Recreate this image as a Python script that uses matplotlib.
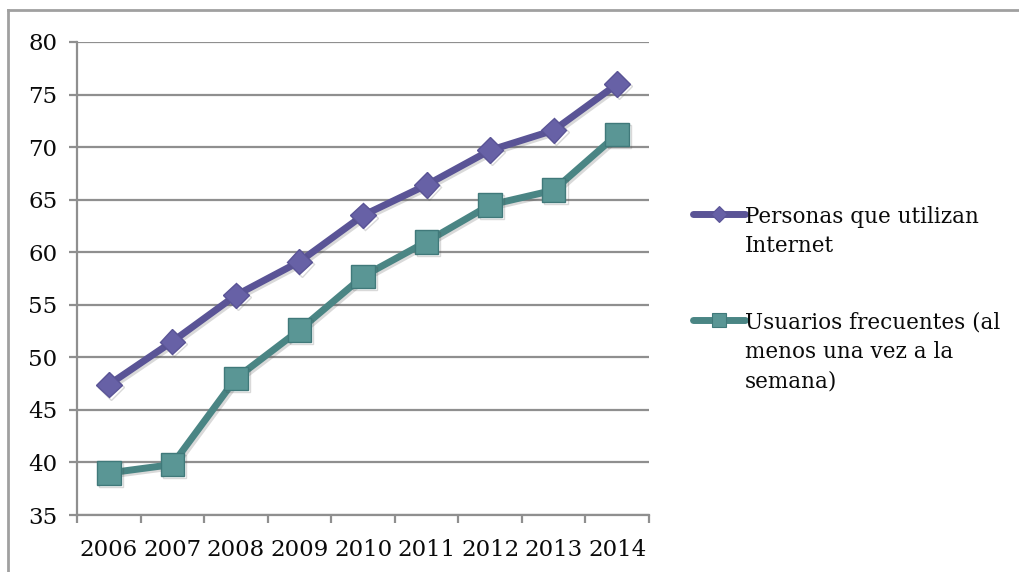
import matplotlib
matplotlib.use("Agg")
import matplotlib.pyplot as plt
import matplotlib.patheffects as pe
from matplotlib.lines import Line2D
import numpy as np

# Data
years = ["2006", "2007", "2008", "2009", "2010", "2011", "2012", "2013", "2014"]
personas_internet = [47.4, 51.5, 55.9, 59.1, 63.5, 66.4, 69.7, 71.6, 76.0]
usuarios_frecuentes = [39.0, 39.8, 48.0, 52.6, 57.7, 61.0, 64.5, 65.9, 71.2]
label_personas = "Personas que utilizan\nInternet"
label_usuarios = "Usuarios frecuentes (al\nmenos una vez a la\nsemana)"

purple = "#5a5496"
teal = "#4a8584"
grid_gray = "#8f8f8f"

plt.rcParams["font.family"] = ["DejaVu Serif"]

W, H = 1019, 572
fig = plt.figure(figsize=(W / 100, H / 100), dpi=100)
ax = fig.add_axes([77 / W, 1 - 515 / H, 572 / W, 473 / H])

x = np.arange(len(years))
shadow = [pe.SimpleLineShadow(offset=(1.5, -1.5), alpha=0.2, shadow_color="#444444"), pe.Normal()]

series = [
    (personas_internet, label_personas, purple, "D", 13, "#6761a6", "#5a5496"),
    (usuarios_frecuentes, label_usuarios, teal, "s", 17, "#5a9695", "#40797a"),
]
for vals, lab, col, mk, ms, fc, ec in series:
    ax.plot(x, vals, color=col, lw=5, marker=mk, ms=ms, mfc=fc, mec=ec, mew=1,
            solid_joinstyle="round", label=lab, zorder=3, path_effects=shadow)

ax.set_xlim(-0.5, len(years) - 0.5)
ax.set_ylim(35, 80)
ax.set_yticks(np.arange(35, 81, 5))
ax.set_xticks(x)
ax.set_xticklabels(years)
ax.set_xticks(np.arange(-0.5, len(years), 1), minor=True)

ax.grid(axis="y", color=grid_gray, lw=1.6)
ax.set_axisbelow(True)
for s in ["top", "right"]:
    ax.spines[s].set_visible(False)
for s in ["left", "bottom"]:
    ax.spines[s].set_color(grid_gray)
    ax.spines[s].set_linewidth(1.6)

ax.tick_params(axis="y", length=6, width=1.6, color=grid_gray, labelsize=16.5, pad=8,
               labelcolor="#0a0a0a")
ax.tick_params(axis="x", which="major", length=0, labelsize=16.5, pad=17, labelcolor="#0a0a0a")
ax.tick_params(axis="x", which="minor", length=6, width=1.6, color=grid_gray)

# legend on the right: handle aligned with the first text line
legend_rows = [214, 320]
for (vals, lab, col, mk, ms, fc, ec), yp in zip(series, legend_rows):
    yf = 1 - yp / H
    fig.add_artist(Line2D([693 / W, 745 / W], [yf, yf], transform=fig.transFigure,
                          color=col, lw=5, solid_capstyle="round"))
    fig.add_artist(Line2D([719 / W], [yf], transform=fig.transFigure, marker=mk,
                          ms=ms * 0.62, mfc=fc, mec=ec, mew=0.8, color=col))
    fig.text(745 / W, yf + 8 / H, lab, transform=fig.transFigure, fontsize=15.5,
             va="top", ha="left", linespacing=1.42, color="#0a0a0a")

# outer chart frame (top and left edges)
fig.add_artist(Line2D([8 / W, 8 / W], [0, 1 - 10 / H], transform=fig.transFigure,
                      color="#a0a0a0", lw=2))
fig.add_artist(Line2D([8 / W, 1], [1 - 10 / H, 1 - 10 / H], transform=fig.transFigure,
                      color="#a0a0a0", lw=2))

fig.savefig("out.png", dpi=100)
plt.close(fig)
